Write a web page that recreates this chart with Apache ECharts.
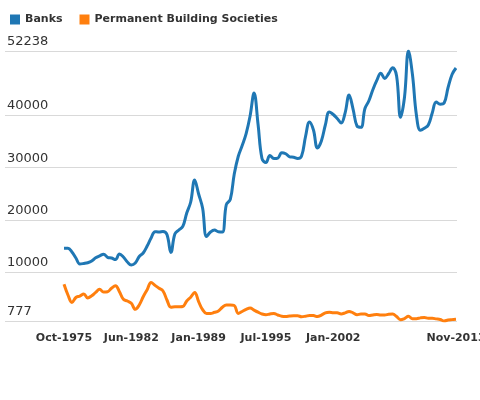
<!DOCTYPE html>
<html>
<head>
<meta charset="utf-8">
<script src="https://cdn.jsdelivr.net/npm/echarts@6/dist/echarts.min.js"></script>
<style>
html,body{margin:0;padding:0;background:#fff;}
#chart{width:480px;height:400px;}
</style>
</head>
<body>
<div id="chart"></div>
<script>
const categories = [
'Oct-1975','Mar-1976','Jul-1976','Dec-1976','May-1977','Oct-1977','Feb-1978','Jul-1978','Dec-1978','Apr-1979',
'Sep-1979','Feb-1980','Jun-1980','Nov-1980','Apr-1981','Sep-1981','Jan-1982','Jun-1982','Nov-1982','Mar-1983',
'Aug-1983','Jan-1984','May-1984','Oct-1984','Mar-1985','Jul-1985','Dec-1985','Apr-1986','Sep-1986','Feb-1987',
'Jun-1987','Nov-1987','Apr-1988','Aug-1988','Jan-1989','Jun-1989','Oct-1989','Mar-1990','Jul-1990','Dec-1990',
'May-1991','Sep-1991','Feb-1992','Jun-1992','Nov-1992','Mar-1993','Aug-1993','Jan-1994','May-1994','Oct-1994',
'Feb-1995','Jul-1995','Dec-1995','Apr-1996','Sep-1996','Jan-1997','Jun-1997','Nov-1997','Mar-1998','Aug-1998',
'Dec-1998','May-1999','Sep-1999','Feb-2000','Jul-2000','Nov-2000','Apr-2001','Aug-2001','Jan-2002','Jun-2002',
'Oct-2002','Mar-2003','Jul-2003','Dec-2003','Apr-2004','Sep-2004','Feb-2005','Jun-2005','Nov-2005','Mar-2006',
'Aug-2006','Jan-2007','May-2007','Oct-2007','Feb-2008','Jul-2008','Nov-2008','Apr-2009','Sep-2009','Jan-2010',
'Jun-2010','Oct-2010','Mar-2011','Aug-2011','Dec-2011','May-2012','Sep-2012','Feb-2013','Jun-2013','Nov-2013'
];

const banks = [
14630,14630,13930,12785,11640,11740,11890,12210,12820,13200,
13510,12920,12785,12500,13550,12980,12020,11450,11830,13070,
13740,15070,16600,17800,17740,17840,17260,13830,17360,18120,
18790,21360,23460,27650,24980,22310,16880,17740,18120,17780,
17740,22980,23940,28800,32130,34230,36510,39850,44230,38330,
31750,30990,32320,31750,31840,32860,32650,32070,31980,31750,
32230,35940,38710,37180,33750,35090,38130,40610,40140,39370,
38520,40460,43850,41180,37940,37700,41280,42750,44860,46620,
48010,47000,47950,49060,47470,39600,43470,52238,47760,40040,
37140,37510,38130,40420,42520,42100,42330,45280,47760,49000
];

const buildingSocieties = [
7770,5730,4300,5260,5540,5920,5160,5600,6230,6820,
6300,6360,7030,7510,6360,4910,4590,4150,3010,3830,
5390,6740,8130,7560,7010,6500,4780,3410,3480,3500,
3540,4590,5310,6210,4470,2930,2230,2230,2440,2680,
3390,3830,3830,3730,2230,2590,2990,3250,2840,2450,
2110,1960,2110,2210,1920,1690,1650,1730,1770,1770,
1600,1690,1840,1810,1630,1900,2340,2450,2360,2340,
2130,2320,2610,2340,1980,2110,2110,1810,1920,2000,
1920,1920,2050,2110,1620,1020,1250,1670,1220,1220,
1370,1440,1290,1290,1180,1060,777,970,1040,1100
];

const seriesNames = ['Banks', 'Permanent Building Societies'];
const xTickLabels = ['Oct-1975','Jun-1982','Jan-1989','Jul-1995','Jan-2002','Nov-2013'];
const yTickValues = [777, 10000, 20000, 30000, 40000, 52238];
const yMin = 777, yMax = 52238;

const chart = echarts.init(document.getElementById('chart'), null, {renderer: 'canvas'});
const font = 'DejaVu Sans';
chart.setOption({
  animation: false,
  color: ['#1f77b4', '#ff7f0e'],
  legend: {
    left: 5, top: 9, itemWidth: 10, itemHeight: 10, itemGap: 17, itemTextGap: 5,
    icon: 'rect',
    data: seriesNames,
    textStyle: {fontFamily: font, fontSize: 11, fontWeight: 'bold', color: '#333'}
  },
  grid: [
    {left: 5, right: 23, top: 51, bottom: 79, outerBoundsMode: 'none', containLabel: false},
    {left: 64, right: 24, top: 51, bottom: 79, outerBoundsMode: 'none', containLabel: false}
  ],
  xAxis: [
    {type: 'value', gridIndex: 0, show: false, min: 0, max: 1},
    {
      type: 'category', gridIndex: 1, data: categories, boundaryGap: false,
      axisLine: {show: false}, axisTick: {show: false},
      axisLabel: {
        interval: (idx, val) => xTickLabels.includes(val),
        margin: 12, fontFamily: font, fontSize: 11, fontWeight: 'bold', color: '#333'
      },
      splitLine: {show: false}
    }
  ],
  yAxis: [
    {
      type: 'value', gridIndex: 0, min: yMin, max: yMax,
      axisLine: {show: false},
      axisTick: {show: false, customValues: yTickValues},
      axisLabel: {
        customValues: yTickValues, inside: true, margin: 2,
        verticalAlign: 'bottom', padding: [0, 0, 3, 0],
        fontFamily: font, fontSize: 13, color: '#333',
        formatter: v => String(v)
      },
      splitLine: {show: true, lineStyle: {color: '#d9d9d9', width: 1}}
    },
    {
      type: 'value', gridIndex: 1, min: yMin, max: yMax, show: false,
      splitLine: {show: false}
    }
  ],
  series: [
    {
      name: seriesNames[0], type: 'line', xAxisIndex: 1, yAxisIndex: 1,
      data: banks, smooth: 0.4, showSymbol: false, symbol: 'none',
      lineStyle: {width: 3, color: '#1f77b4'}
    },
    {
      name: seriesNames[1], type: 'line', xAxisIndex: 1, yAxisIndex: 1,
      data: buildingSocieties, smooth: 0.4, showSymbol: false, symbol: 'none',
      lineStyle: {width: 3, color: '#ff7f0e'}
    }
  ]
});
</script>
</body>
</html>
